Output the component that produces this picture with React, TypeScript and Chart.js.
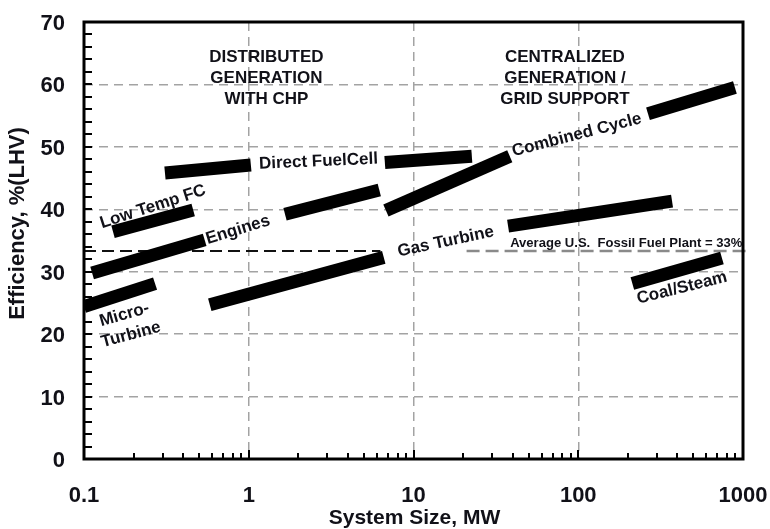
import React, { useEffect, useRef } from 'react';
import { Chart, registerables } from 'chart.js';

Chart.register(...registerables);

// ---- Data (x = system size in MW, y = efficiency %LHV) ----
const microTurbine = [[0.1, 24.4], [0.27, 28.1]];
const enginesSmall = [[0.112, 29.8], [0.54, 35.1]];
const enginesLarge = [[1.66, 39.2], [6.2, 43.1]];
const lowTempFC = [[0.15, 36.4], [0.46, 39.9]];
const directFuelCell1 = [[0.31, 45.8], [1.03, 47.1]];
const directFuelCell2 = [[6.7, 47.5], [22.6, 48.5]];
const combinedCycle1 = [[6.8, 39.8], [38.4, 48.5]];
const combinedCycle2 = [[265, 55.3], [893, 59.5]];
const gasTurbine1 = [[0.58, 24.7], [6.6, 32.3]];
const gasTurbine2 = [[37.5, 37.3], [371, 41.3]];
const coalSteam = [[213, 28.1], [745, 32.2]];

const avgFossilValue = 33.3;
const avgLineBlackX = [0.1, 6.3];
const avgLineGrayX = [21, 1070];

// ---- Axis ticks ----
const xTickValues = [0.1, 1, 10, 100, 1000];
const xTickLabels = ['0.1', '1', '10', '100', '1000'];
const xMinorMultipliers = [2, 3, 4, 5, 6, 7, 8, 9];
const yTickValues = [0, 10, 20, 30, 40, 50, 60, 70];
const yTickLabels = ['0', '10', '20', '30', '40', '50', '60', '70'];
const yMinorStep = 2;

const xTitle = 'System Size, MW';
const yTitle = 'Efficiency, %(LHV)';

// ---- Annotations (data coordinates) ----
const headerLines1 = ['DISTRIBUTED', 'GENERATION', 'WITH CHP'];
const headerLines2 = ['CENTRALIZED', 'GENERATION /', 'GRID SUPPORT'];
const header1Pos = [1.28, 61.0];
const header2Pos = [83, 61.0];

const bandLabels = [
  { text: 'Low Temp FC', x: 0.262, y: 40.4, angle: 18 },
  { text: 'Engines', x: 0.86, y: 36.7, angle: 17 },
  { text: 'Direct FuelCell', x: 2.65, y: 47.65, angle: 2.5 },
  { text: 'Combined Cycle', x: 98, y: 51.9, angle: 14.5 },
  { text: 'Gas Turbine', x: 15.7, y: 34.8, angle: 12 },
  { text: 'Micro-', x: 0.176, y: 23.1, angle: 16 },
  { text: 'Turbine', x: 0.193, y: 19.9, angle: 15 },
  { text: 'Coal/Steam', x: 426, y: 27.4, angle: 14 },
];
const avgLabel = { text: 'Average U.S.  Fossil Fuel Plant = 33%', x: 38.6, y: 34.6, xEnd: 990 };

const TEXT = '#111118';
const FONT = '"Liberation Sans", Arial, Helvetica, sans-serif';

const toPts = (arr: number[][]) => arr.map(([x, y]) => ({ x, y }));

const bandSets = [
  microTurbine, enginesSmall, enginesLarge, lowTempFC, directFuelCell1, directFuelCell2,
  combinedCycle1, combinedCycle2, gasTurbine1, gasTurbine2, coalSteam,
];

const decorPlugin = {
  id: 'decor',
  afterDraw(chart: any) {
    const ctx = chart.ctx as CanvasRenderingContext2D;
    const xs = chart.scales.x;
    const ys = chart.scales.y;
    const { left, right, top, bottom } = chart.chartArea;

    ctx.save();
    // Frame
    ctx.strokeStyle = '#000';
    ctx.lineWidth = 3;
    ctx.setLineDash([]);
    ctx.strokeRect(left, top, right - left, bottom - top);

    // Y minor ticks (inside, left axis)
    ctx.lineWidth = 2;
    ctx.beginPath();
    for (let v = yTickValues[0] + yMinorStep; v < yTickValues[yTickValues.length - 1]; v += yMinorStep) {
      const py = Math.round(ys.getPixelForValue(v));
      ctx.moveTo(left, py);
      ctx.lineTo(left + 8, py);
    }
    ctx.stroke();

    // X ticks (inside, bottom axis)
    ctx.beginPath();
    for (let i = 0; i < xTickValues.length - 1; i++) {
      const d = xTickValues[i];
      xMinorMultipliers.forEach((m) => {
        const px = Math.round(xs.getPixelForValue(d * m));
        ctx.moveTo(px, bottom);
        ctx.lineTo(px, bottom - 6);
      });
      if (i > 0) {
        const px = Math.round(xs.getPixelForValue(d));
        ctx.moveTo(px, bottom);
        ctx.lineTo(px, bottom - 9);
      }
    }
    ctx.stroke();

    // Tick labels
    ctx.fillStyle = TEXT;
    ctx.font = `bold 22px ${FONT}`;
    ctx.textBaseline = 'middle';
    ctx.textAlign = 'right';
    yTickValues.forEach((v, i) => {
      ctx.fillText(yTickLabels[i], left - 19, ys.getPixelForValue(v) + 2);
    });
    ctx.textAlign = 'center';
    xTickValues.forEach((v, i) => {
      ctx.fillText(xTickLabels[i], xs.getPixelForValue(v), bottom + 37);
    });

    // Axis titles
    ctx.font = `bold 21px ${FONT}`;
    ctx.fillText(xTitle, (left + right) / 2 + 1, bottom + 59);
    ctx.save();
    ctx.translate(18, (top + bottom) / 2 - 17);
    ctx.rotate(-Math.PI / 2);
    ctx.font = `bold 22px ${FONT}`;
    ctx.fillText(yTitle, 0, 0);
    ctx.restore();

    // Section headers
    ctx.font = `bold 17px ${FONT}`;
    const drawHeader = (lines: string[], pos: number[]) => {
      const cx = xs.getPixelForValue(pos[0]);
      const cy = ys.getPixelForValue(pos[1]);
      lines.forEach((t, i) => ctx.fillText(t, cx, cy + (i - 1) * 20.7));
    };
    drawHeader(headerLines1, header1Pos);
    drawHeader(headerLines2, header2Pos);

    // Band labels
    ctx.font = `bold 17px ${FONT}`;
    bandLabels.forEach((l) => {
      ctx.save();
      ctx.translate(xs.getPixelForValue(l.x), ys.getPixelForValue(l.y));
      ctx.rotate((-l.angle * Math.PI) / 180);
      ctx.fillText(l.text, 0, 0);
      ctx.restore();
    });

    // Average label (condensed bold, fitted between its anchors)
    ctx.font = `bold 13.5px ${FONT}`;
    ctx.textAlign = 'left';
    const ax0 = xs.getPixelForValue(avgLabel.x);
    const ax1 = xs.getPixelForValue(avgLabel.xEnd);
    const w = ctx.measureText(avgLabel.text).width;
    ctx.save();
    ctx.translate(ax0, ys.getPixelForValue(avgLabel.y));
    ctx.scale((ax1 - ax0) / w, 1);
    ctx.fillText(avgLabel.text, 0, 0);
    ctx.restore();

    ctx.restore();
  },
};

export default function App() {
  const ref = useRef<HTMLCanvasElement>(null);

  useEffect(() => {
    if (!ref.current) return;
    const datasets: any[] = bandSets.map((b) => ({
      data: toPts(b),
      borderColor: '#000',
      backgroundColor: '#000',
      borderWidth: 13,
      borderCapStyle: 'butt',
      pointRadius: 0,
      fill: false,
      tension: 0,
      order: 1,
    }));
    datasets.push({
      data: avgLineBlackX.map((x) => ({ x, y: avgFossilValue })),
      borderColor: '#111',
      borderWidth: 2,
      borderDash: [12, 6],
      pointRadius: 0,
      fill: false,
      order: 2,
    });
    datasets.push({
      data: avgLineGrayX.map((x) => ({ x, y: avgFossilValue })),
      borderColor: '#8a8a8a',
      borderWidth: 2.5,
      borderDash: [13, 6],
      pointRadius: 0,
      fill: false,
      clip: false,
      order: 2,
    });

    const chart = new Chart(ref.current, {
      type: 'line',
      data: { datasets },
      options: {
        responsive: false,
        animation: false,
        events: [],
        layout: { padding: { left: 84, top: 22, right: 27, bottom: 70 } },
        plugins: { legend: { display: false }, tooltip: { enabled: false }, title: { display: false } },
        scales: {
          x: {
            type: 'logarithmic',
            min: xTickValues[0],
            max: xTickValues[xTickValues.length - 1],
            afterBuildTicks: (s: any) => {
              s.ticks = xTickValues.slice(1, -1).map((v) => ({ value: v }));
            },
            afterFit: (s: any) => { s.height = 0; },
            ticks: { display: false },
            border: { display: false, dash: [9, 6] },
            grid: { color: '#a3a3a3', lineWidth: 1.5, drawTicks: false },
          },
          y: {
            type: 'linear',
            min: yTickValues[0],
            max: yTickValues[yTickValues.length - 1],
            afterBuildTicks: (s: any) => {
              s.ticks = yTickValues.slice(1, -1).map((v) => ({ value: v }));
            },
            afterFit: (s: any) => { s.width = 0; },
            ticks: { display: false },
            border: { display: false, dash: [9, 6] },
            grid: { color: '#a3a3a3', lineWidth: 1.5, drawTicks: false },
          },
        },
      },
      plugins: [decorPlugin],
    });
    return () => chart.destroy();
  }, []);

  return (
    <div style={{ position: 'fixed', left: 0, top: 0, width: 770, height: 529, background: '#fff' }}>
      <canvas ref={ref} width={770} height={529} style={{ display: 'block' }} />
    </div>
  );
}
